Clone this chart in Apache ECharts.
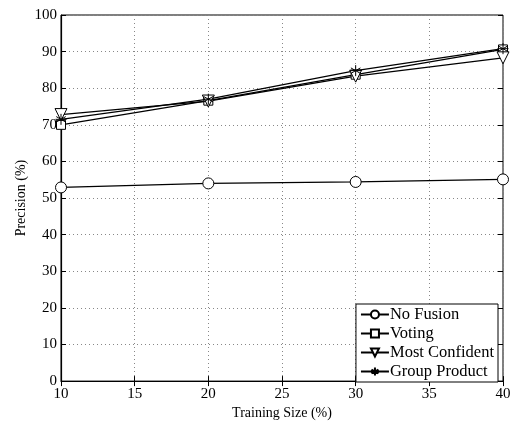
<!DOCTYPE html>
<html><head><meta charset="utf-8">
<script src="https://cdn.jsdelivr.net/npm/echarts@6/dist/echarts.min.js"></script>
<style>html,body{margin:0;padding:0;background:#fff}#c{width:514px;height:425px}</style>
</head><body><div id="c"></div>
<script>
var trainingSizes = [10, 20, 30, 40];
var noFusion = [52.9, 54.0, 54.4, 55.1];
var voting = [70.0, 76.6, 83.7, 90.6];
var mostConfident = [72.8, 76.5, 83.3, 88.3];
var groupProduct = [71.5, 77.0, 84.8, 90.8];
var xTicks = [10, 15, 20, 25, 30, 35, 40];
var yTicks = [0, 10, 20, 30, 40, 50, 60, 70, 80, 90, 100];

var font = 'Liberation Serif, Times New Roman, serif';
var asterisk = 'path://M0,-10L0,10M-8.66,-5L8.66,5M-8.66,5L8.66,-5M-10,0L10,0';

function mk(name, data, symbol, size, rot) {
  return {
    name: name, type: 'line', data: trainingSizes.map(function (x, i) { return [x, data[i]]; }),
    symbol: symbol, symbolSize: size, symbolRotate: rot || 0, showAllSymbol: true,
    lineStyle: { color: '#000', width: 1.2 },
    itemStyle: { color: symbol === asterisk ? '#000' : '#fff', borderColor: '#000', borderWidth: 1 },
    emphasis: { disabled: true }, animation: false
  };
}

var chart = echarts.init(document.getElementById('c'));
chart.setOption({
  animation: false,
  grid: { left: 61, top: 15, right: 11, bottom: 38, show: true, borderColor: '#000', borderWidth: 1, containLabel: false },
  xAxis: [{
    type: 'value', min: 10, max: 40, interval: 5,
    name: 'Training Size (%)', nameLocation: 'middle', nameGap: 22,
    nameTextStyle: { fontFamily: font, fontSize: 14, color: '#000' },
    axisLine: { lineStyle: { color: '#000', width: 1.2 } },
    axisTick: { inside: true, length: 5, lineStyle: { color: '#000' } },
    axisLabel: { fontFamily: font, fontSize: 15, color: '#000', margin: 5 },
    splitLine: { show: true, lineStyle: { color: '#888', type: [1, 3], width: 1 } }
  }, {
    type: 'value', min: 10, max: 40, interval: 5, position: 'top',
    axisLine: { show: false }, axisLabel: { show: false }, splitLine: { show: false },
    axisTick: { inside: true, length: 5, lineStyle: { color: '#000' } }
  }],
  yAxis: [{
    type: 'value', min: 0, max: 100, interval: 10,
    name: 'Precision (%)', nameLocation: 'middle', nameGap: 33, nameRotate: 90, nameMoveOverlap: false,
    nameTextStyle: { fontFamily: font, fontSize: 14, color: '#000' },
    axisLine: { show: true, lineStyle: { color: '#000', width: 1.2 } },
    axisTick: { show: true, inside: true, length: 5, lineStyle: { color: '#000' } },
    axisLabel: { fontFamily: font, fontSize: 15, color: '#000', margin: 4 },
    splitLine: { show: true, lineStyle: { color: '#888', type: [1, 3], width: 1 } }
  }, {
    type: 'value', min: 0, max: 100, interval: 10, position: 'right',
    axisLine: { show: false }, axisLabel: { show: false }, splitLine: { show: false },
    axisTick: { show: true, inside: true, length: 5, lineStyle: { color: '#000' } }
  }],
  legend: {
    orient: 'vertical', right: 16, bottom: 43,
    backgroundColor: '#fff', borderColor: '#000', borderWidth: 1, borderRadius: 0,
    padding: [2, 4, 2, 4], itemGap: 2, itemWidth: 28, itemHeight: 10,
    textStyle: { fontFamily: font, fontSize: 16.5, color: '#000', lineHeight: 16.5, padding: [0, 0, 0, -4] },
    data: ['No Fusion', 'Voting', 'Most Confident', 'Group Product']
  },
  series: [
    mk('No Fusion', noFusion, 'circle', 11),
    mk('Voting', voting, 'rect', 9),
    mk('Most Confident', mostConfident, 'triangle', 12, 180),
    mk('Group Product', groupProduct, asterisk, 11)
  ]
});
</script></body></html>
